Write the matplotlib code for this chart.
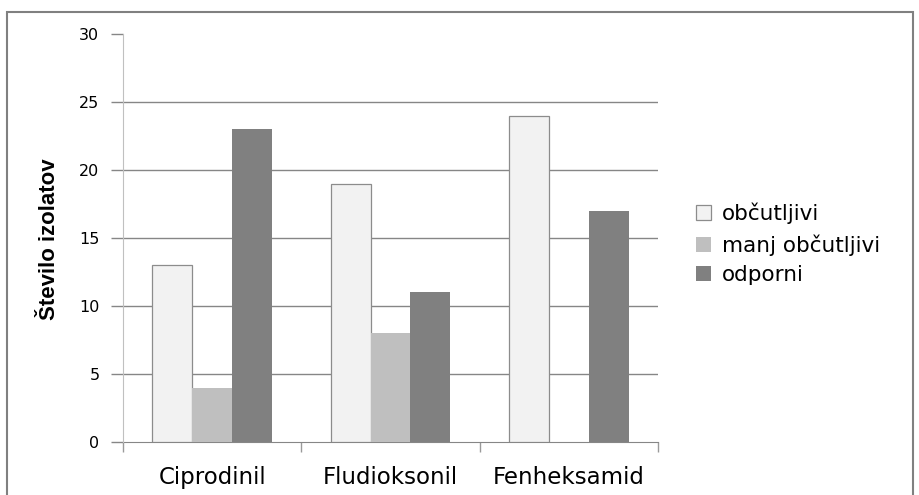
import numpy as np
import matplotlib
matplotlib.use("Agg")
from matplotlib import pyplot as plt
from matplotlib.patches import Rectangle

# stevilo izolatov po fungicidih
categories = ["Ciprodinil", "Fludioksonil", "Fenheksamid"]
series = ["občutljivi", "manj občutljivi", "odporni"]
obcutljivi = [13, 19, 24]
manj_obcutljivi = [4, 8, 0]
odporni = [23, 11, 17]

values = [obcutljivi, manj_obcutljivi, odporni]
colors = ["#f2f2f2", "#bfbfbf", "#808080"]
edges = ["#8c8c8c", "none", "none"]

fig = plt.figure(figsize=(9.2, 4.95), dpi=100)
ax = fig.add_axes([123 / 920, 53 / 495, 535 / 920, 408 / 495])

x = np.arange(len(categories))
width = 0.224
for i, (vals, col, ec) in enumerate(zip(values, colors, edges)):
    ax.bar(x + (i - 1) * width, vals, width, color=col, edgecolor=ec,
           linewidth=0.9, label=series[i], zorder=3)

ax.set_xlim(-0.5, 2.5)
ax.set_ylim(0, 30)
ax.set_yticks(range(0, 31, 5))
ax.set_yticklabels([str(v) for v in range(0, 31, 5)], fontsize=11.5)
for v in range(5, 30, 5):
    ax.axhline(v, color="#868686", linewidth=1.0, zorder=1)

# category labels centred, tick marks on the group borders
ax.set_xticks(x)
ax.set_xticklabels(categories, fontsize=16.5)
ax.tick_params(axis="x", which="major", length=0, pad=17)
ax.set_xticks([-0.5, 0.5, 1.5, 2.5], minor=True)
ax.tick_params(axis="x", which="minor", length=7, color="#9a9a9a", width=1)
ax.tick_params(axis="y", length=9, color="#868686", width=1, pad=8)

for s in ["top", "right"]:
    ax.spines[s].set_visible(False)
ax.spines["left"].set_color("#c0c0c0")
ax.spines["bottom"].set_color("#868686")
ax.spines["left"].set_zorder(4)

fig.text(50 / 920, 1 - 239 / 495, "Število izolatov", rotation=90, ha="center",
         va="center", fontsize=16, fontweight="bold",
         family=["Liberation Sans", "DejaVu Sans"])

ax.legend(loc="center left", bbox_to_anchor=(1.035, 0.485), frameon=False,
          fontsize=15.5, handlelength=0.7, handleheight=0.7, handletextpad=0.5,
          labelspacing=0.45)

# outer frame of the chart
fig.patches.append(Rectangle((7 / 920, -0.05), 906 / 920, 1.05 - 12 / 495,
                             transform=fig.transFigure, fill=False,
                             edgecolor="#808080", linewidth=1.5))

fig.savefig("out.png", dpi=100)
